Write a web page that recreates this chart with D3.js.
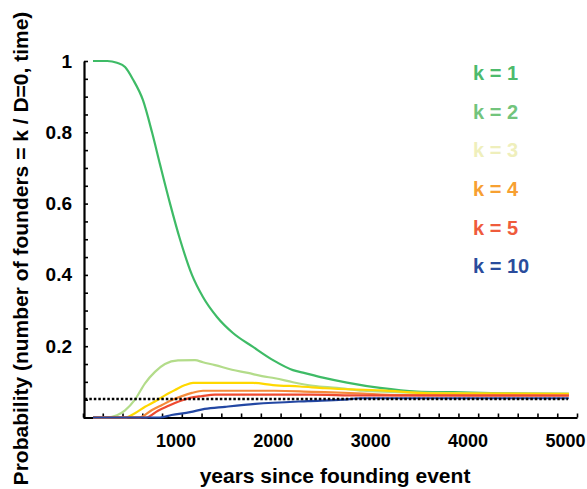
<!DOCTYPE html>
<html>
<head>
<meta charset="utf-8">
<script src="https://cdn.jsdelivr.net/npm/d3@7"></script>
<style>
  body { margin: 0; background: #fff; }
  svg { display: block; font-family: Arial, "Liberation Sans", sans-serif; font-weight: bold; }
</style>
</head>
<body>
<script>
// series: [year, probability]
const k1 = [[154,1.0],[300,1.0],[400,0.995],[483,0.983],[565,0.948],[667,0.89],[760,0.80],[842,0.71],[945,0.60],[1047,0.50],[1170,0.40],[1283,0.338],[1427,0.282],[1591,0.237],[1797,0.198],[2002,0.161],[2207,0.133],[2310,0.126],[2515,0.112],[2762,0.098],[3101,0.083],[3480,0.073],[3850,0.071],[4353,0.068],[4671,0.067],[5040,0.066]];
const k2 = [[154,0],[298,0],[400,0.006],[483,0.02],[585,0.05],[688,0.096],[790,0.128],[893,0.15],[1027,0.16],[1201,0.161],[1283,0.155],[1407,0.147],[1581,0.134],[1745,0.125],[1889,0.116],[2023,0.11],[2207,0.099],[2413,0.089],[2659,0.083],[2926,0.075],[3203,0.072],[3953,0.068],[4353,0.067],[5040,0.066]];
const k3 = [[154,0],[483,0],[585,0.012],[688,0.03],[790,0.045],[893,0.062],[996,0.077],[1099,0.091],[1181,0.097],[1797,0.097],[2002,0.091],[2279,0.087],[2536,0.082],[3121,0.076],[3614,0.068],[5040,0.066]];
const k4 = [[154,0],[630,0],[760,0.021],[862,0.035],[965,0.049],[1068,0.06],[1170,0.069],[1283,0.075],[2020,0.075],[2400,0.072],[2864,0.068],[3300,0.063],[5040,0.063]];
const k5 = [[154,0],[700,0],[821,0.019],[924,0.032],[1027,0.044],[1150,0.055],[1273,0.06],[1407,0.064],[2382,0.064],[2900,0.062],[5040,0.061]];
const k10 = [[154,0],[842,0],[960,0.007],[1150,0.015],[1300,0.024],[1510,0.03],[1820,0.038],[2360,0.046],[2720,0.05],[2900,0.054],[5040,0.054]];
const baseline = 0.052;

const seriesNames = ["k = 1", "k = 2", "k = 3", "k = 4", "k = 5", "k = 10"];
const seriesData = [k1, k2, k3, k4, k5, k10];
const lineColors = ["#3ebb66", "#b3dc8a", "#ffd800", "#f58a3a", "#ef4a30", "#2347a3"];
const legendColors = ["#4dba6c", "#72c47c", "#efefbc", "#f7a031", "#ef5b3c", "#2a4c9c"];

const xLabels = [1000, 2000, 3000, 4000, 5000];
const yLabels = [0.2, 0.4, 0.6, 0.8, 1];

const width = 587, height = 489;

const svg = d3.select("body").append("svg")
  .attr("width", width)
  .attr("height", height);

const xScale = d3.scaleLinear().domain([0, 5000]).range([78, 565]);
const yScale = d3.scaleLinear().domain([0, 1]).range([417.5, 61]);
// tick marks on the x axis sit on 25 equal intervals along the axis line
const xTickGrid = d3.scaleLinear().domain([0, 25]).range([83, 577]);

// x axis: line + minor ticks
svg.append("g")
  .attr("transform", "translate(0,417.5)")
  .call(d3.axisBottom(xTickGrid).tickValues(d3.range(26)).tickSizeInner(-4).tickSizeOuter(0).tickFormat(""))
  .call(g => g.select(".domain").attr("stroke-width", 2.2))
  .call(g => g.selectAll(".tick line").attr("stroke-width", 1.6));

// x labels
svg.append("g")
  .attr("transform", "translate(0,417.5)")
  .call(d3.axisBottom(xScale).tickValues(xLabels).tickSize(0).tickPadding(16.5).tickFormat(d3.format("d")))
  .call(g => g.select(".domain").remove())
  .call(g => g.selectAll("text").attr("font-size", 18).attr("font-weight", "bold").attr("fill", "#000")
    .attr("font-family", "Arial, 'Liberation Sans', sans-serif"));

// y axis
svg.append("g")
  .attr("transform", "translate(84,0)")
  .call(d3.axisLeft(yScale).tickValues(d3.range(0, 1.001, 0.05)).tickSizeInner(-4).tickSizeOuter(0).tickPadding(12)
    .tickFormat(d => yLabels.some(v => Math.abs(v - d) < 1e-6) ? d3.format("")(+d.toFixed(1)) : ""))
  .call(g => g.select(".domain").attr("stroke-width", 2.2))
  .call(g => g.selectAll(".tick line").attr("stroke-width", 1.6))
  .call(g => g.selectAll("text").attr("font-size", 19).attr("font-weight", "bold").attr("fill", "#000")
    .attr("font-family", "Arial, 'Liberation Sans', sans-serif"));

// axis titles
svg.append("text")
  .attr("x", 335)
  .attr("y", 483)
  .attr("text-anchor", "middle")
  .attr("font-size", 21)
  .text("years since founding event");

svg.append("text")
  .attr("transform", "translate(28,248.5) rotate(-90)")
  .attr("text-anchor", "middle")
  .attr("font-size", 21)
  .text("Probability (number of founders = k / D=0, time)");

// lines
const line = d3.line()
  .x(d => xScale(d[0]))
  .y(d => yScale(d[1]))
  .curve(d3.curveMonotoneX);

svg.selectAll(".series")
  .data(seriesData)
  .enter().append("path")
  .attr("class", "series")
  .attr("d", d => line(d))
  .attr("fill", "none")
  .attr("stroke", (d, i) => lineColors[i])
  .attr("stroke-width", 2.2);

// reference level
svg.append("line")
  .attr("x1", xScale(70))
  .attr("x2", xScale(5030))
  .attr("y1", yScale(baseline))
  .attr("y2", yScale(baseline))
  .attr("stroke", "#000")
  .attr("stroke-width", 2.5)
  .attr("stroke-dasharray", "2.5,2");

// legend
svg.selectAll(".legend")
  .data(seriesNames)
  .enter().append("text")
  .attr("class", "legend")
  .attr("x", 473)
  .attr("y", (d, i) => 73 + i * 38.6)
  .attr("dy", "0.36em")
  .attr("font-size", 20)
  .attr("fill", (d, i) => legendColors[i])
  .text(d => d);
</script>
</body>
</html>
